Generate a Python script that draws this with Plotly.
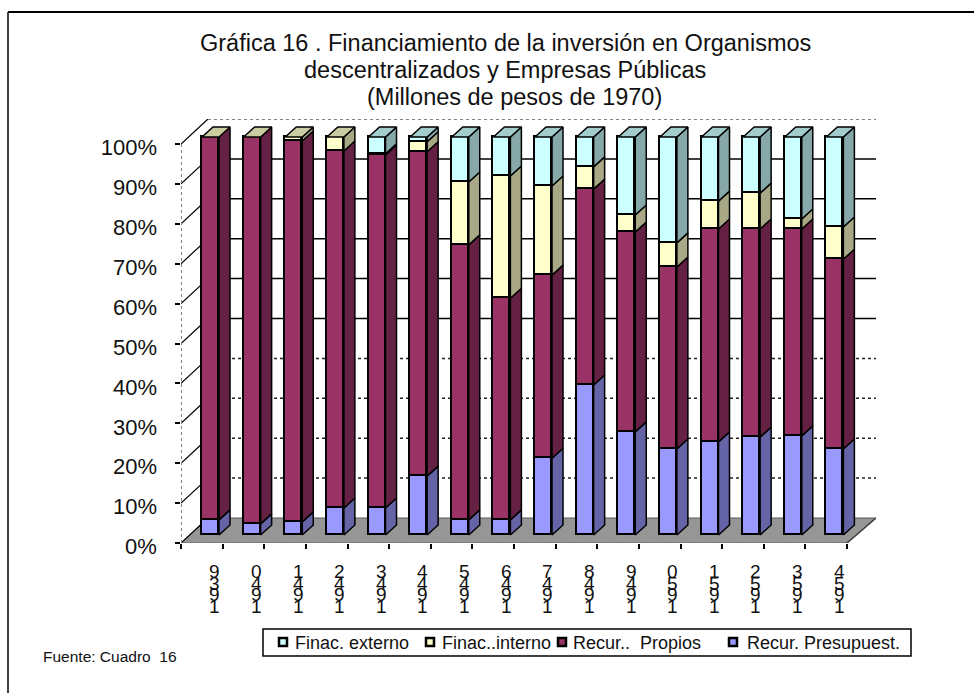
import plotly.graph_objects as go

years = [1939, 1940, 1941, 1942, 1943, 1944, 1945, 1946, 1947, 1948, 1949, 1950, 1951, 1952, 1953, 1954]
presupuest = [3.8, 2.8, 3.3, 6.8, 6.8, 14.8, 3.8, 3.8, 19.3, 37.7, 25.9, 21.6, 23.4, 24.6, 24.9, 21.6]
propios = [96.2, 97.2, 95.7, 89.7, 88.7, 81.5, 69.1, 55.7, 46.0, 49.2, 50.2, 45.7, 53.5, 52.3, 52.0, 47.7]
interno = [0.0, 0.0, 1.0, 3.5, 0.3, 2.5, 15.8, 30.7, 22.4, 5.6, 4.3, 6.1, 7.0, 9.0, 2.5, 8.1]
externo = [0.0, 0.0, 0.0, 0.0, 4.2, 1.2, 11.3, 9.8, 12.3, 7.5, 19.6, 26.6, 16.1, 14.1, 20.6, 22.6]
y_ticks = list(range(0, 101, 10))
thick_ticks = [0, 2, 4, 15]

series = [
    ("Recur. Presupuest.", presupuest, "#9999FF", "#6464A6", None),
    ("Recur..  Propios", propios, "#993366", "#652143", None),
    ("Finac..interno", interno, "#FFFFCC", "#A8A886", "#CCCCA3"),
    ("Finac. externo", externo, "#CCFFFF", "#86A8A8", "#A3CCCC"),
]

W, H = 974, 693
PX_L, PX_R, PX_T, PX_B = 181, 876, 119, 543
CAT_PX = 41.625
Y_PX = 3.99
BAR_PX = 3.98
BAR_BASE_PX = 535
LABEL_DROP_PX = 3.5

x_rng = [0, (PX_R - PX_L) / CAT_PX]
y_rng = [0, (PX_B - PX_T) / Y_PX]
y2_rng = [(BAR_BASE_PX - PX_B) / BAR_PX, (BAR_BASE_PX - PX_T) / BAR_PX]
y3_rng = [LABEL_DROP_PX / Y_PX, y_rng[1] + LABEL_DROP_PX / Y_PX]

WALL_DX = 27 / CAT_PX
WALL_DY = 25 / Y_PX
BAR_W = 17 / CAT_PX
BAR_SHIFT = 8.7 / CAT_PX
SIDE_DX = 11 / CAT_PX
SIDE_DY = 10 / BAR_PX
n = len(years)

fig = go.Figure()


def line(xs, ys, color="#000000", width=1.5, dash="solid"):
    fig.add_trace(go.Scatter(x=xs, y=ys, mode="lines", showlegend=False, hoverinfo="skip",
                             line=dict(color=color, width=width, dash=dash), xaxis="x", yaxis="y"))


# floor
fig.add_trace(go.Scatter(
    x=[0, n, x_rng[1], WALL_DX, 0], y=[0, 0, WALL_DY, WALL_DY, 0], mode="lines", fill="toself",
    fillcolor="#969696", line=dict(color="#5a5a5a", width=1), showlegend=False, hoverinfo="skip",
    xaxis="x", yaxis="y"))
line([0, n], [0, 0], "#808080", 2, "dot")
line([n, x_rng[1]], [0, WALL_DY], "#404040", 1.5)

# walls and gridlines
for v in y_ticks[1:]:
    line([0, WALL_DX], [v, v + WALL_DY], "#000000", 1.2)
    if v == 100:
        line([WALL_DX, x_rng[1]], [v + WALL_DY, v + WALL_DY], "#808080", 2, "dot")
    elif v <= 40:
        line([WALL_DX, x_rng[1]], [v + WALL_DY, v + WALL_DY], "#222222", 1.5, "dot")
    else:
        line([WALL_DX, x_rng[1]], [v + WALL_DY, v + WALL_DY], "#000000", 1.5)
line([0, WALL_DX], [0, WALL_DY], "#000000", 1.2)
line([0, 0], [0, 100], "#808080", 2, "dot")

# heavier tick marks
fig.add_trace(go.Scatter(
    x=thick_ticks, y=[-2.5 / Y_PX] * len(thick_ticks), mode="markers", cliponaxis=False,
    marker=dict(symbol="line-ns", size=5, line=dict(color="#000000", width=3)),
    showlegend=False, hoverinfo="skip", xaxis="x", yaxis="y"))

# front faces of the stacked bars
centres = [i + 0.5 + BAR_SHIFT for i in range(n)]
for name, vals, front, side, top in series:
    fig.add_trace(go.Bar(x=centres, y=vals, width=BAR_W, name=name, marker=dict(
        color=front, line=dict(color="#000000", width=1.8)), showlegend=False,
        xaxis="x", yaxis="y2"))

# side and top faces
cum = [0.0] * n
for name, vals, front, side, top in series:
    for i in range(n):
        if vals[i] <= 0:
            continue
        xr = centres[i] + BAR_W / 2
        lo, hi = cum[i], cum[i] + vals[i]
        fig.add_trace(go.Scatter(
            x=[xr, xr + SIDE_DX, xr + SIDE_DX, xr, xr],
            y=[lo, lo + SIDE_DY, hi + SIDE_DY, hi, lo],
            mode="lines", fill="toself", fillcolor=side, line=dict(color="#000000", width=1.5),
            showlegend=False, hoverinfo="skip", xaxis="x", yaxis="y2"))
        cum[i] = hi
for i in range(n):
    xl = centres[i] - BAR_W / 2
    xr = centres[i] + BAR_W / 2
    colour = series[3][4] if externo[i] > 0 else series[2][4]
    hi = cum[i]
    fig.add_trace(go.Scatter(
        x=[xl, xr, xr + SIDE_DX, xl + SIDE_DX, xl],
        y=[hi, hi, hi + SIDE_DY, hi + SIDE_DY, hi],
        mode="lines", fill="toself", fillcolor=colour, line=dict(color="#000000", width=1.5),
        showlegend=False, hoverinfo="skip", xaxis="x", yaxis="y2"))

# carries the y tick labels
fig.add_trace(go.Scatter(x=[], y=[], showlegend=False, hoverinfo="skip", xaxis="x", yaxis="y3"))

annotations = []
# category labels: one upright digit per line, last digit first
for i, yr in enumerate(years):
    for k, ch in enumerate(reversed(str(yr))):
        annotations.append(dict(
            text=ch, x=i + 0.5, y=0, xref="x", yref="y", xshift=13, yshift=-(28.5 + 11.7 * k),
            showarrow=False, xanchor="center", yanchor="middle",
            font=dict(family="Liberation Sans", size=19, color="#111111")))

# lowest y label sits below the label axis range
annotations.append(dict(text=f"{y_ticks[0]}%", x=0, y=y_ticks[0], xref="x", yref="y", xshift=-22, yshift=-LABEL_DROP_PX,
                        showarrow=False, xanchor="right", yanchor="middle",
                        font=dict(family="Liberation Sans", size=22, color="#111111")))

annotations.append(dict(text="Fuente: Cuadro  16", x=41 / W, y=1 - 656 / H, xref="paper", yref="paper",
                        showarrow=False, xanchor="left", yanchor="middle",
                        font=dict(family="Liberation Sans", size=15.5, color="#111111")))

# title lines
for txt, cy, cx in [("Gráfica 16 . Financiamiento de la inversión en Organismos", 43, 505),
                    ("descentralizados y Empresas Públicas", 70, 505),
                    ("(Millones de pesos de 1970)", 97, 514)]:
    annotations.append(dict(text=txt, x=cx / W, y=1 - cy / H, xref="paper", yref="paper", showarrow=False,
                            xanchor="center", yanchor="middle",
                            font=dict(family="Liberation Sans", size=23.5, color="#111111")))

# legend
shapes = [
    dict(type="line", xref="paper", yref="paper", x0=8 / W, x1=8 / W, y0=0, y1=1 - 12 / H,
         line=dict(color="#000000", width=1.5)),
    dict(type="line", xref="paper", yref="paper", x0=8 / W, x1=1, y0=1 - 12 / H, y1=1 - 12 / H,
         line=dict(color="#000000", width=2)),
    dict(type="rect", xref="paper", yref="paper", x0=263 / W, x1=911 / W, y0=1 - 656 / H, y1=1 - 629 / H,
         line=dict(color="#000000", width=1.5), fillcolor="#FFFFFF"),
]
leg_key = [733, 562, 430, 283]
leg_text = [745, 571, 440, 293]
for (name, vals, front, side, top), kx, tx in zip(series, leg_key, leg_text):
    shapes.append(dict(type="rect", xref="paper", yref="paper", x0=(kx - 4) / W, x1=(kx + 4) / W,
                       y0=1 - 646 / H, y1=1 - 638 / H, line=dict(color="#000000", width=2.5), fillcolor=front))
    annotations.append(dict(text=name, x=tx / W, y=1 - 643 / H, xref="paper", yref="paper",
                            showarrow=False, xanchor="left", yanchor="middle",
                            font=dict(family="Liberation Sans", size=18, color="#111111")))

fig.update_layout(
    width=W, height=H, autosize=False, margin=dict(l=0, r=0, t=0, b=0),
    paper_bgcolor="#FFFFFF", plot_bgcolor="#FFFFFF", barmode="stack", bargap=0,
    font=dict(family="Liberation Sans", color="#111111"),
    xaxis=dict(domain=[PX_L / W, PX_R / W], range=x_rng, tickmode="array", tickvals=list(range(n + 1)),
               ticks="outside", ticklen=5, tickwidth=1.5, tickcolor="#000000", showticklabels=False,
               showgrid=False, zeroline=False, showline=False, anchor="y"),
    yaxis=dict(domain=[1 - PX_B / H, 1 - PX_T / H], range=y_rng, tickmode="array", tickvals=y_ticks,
               ticks="outside", ticklen=5, tickwidth=1.5, tickcolor="#000000", showticklabels=False,
               showgrid=False, zeroline=False, showline=False, anchor="x"),
    yaxis2=dict(domain=[1 - PX_B / H, 1 - PX_T / H], range=y2_rng, overlaying="y", visible=False,
                anchor="x", showgrid=False, zeroline=False),
    yaxis3=dict(domain=[1 - PX_B / H, 1 - PX_T / H], range=y3_rng, overlaying="y", anchor="x", side="left",
                tickmode="array", tickvals=y_ticks[1:], ticktext=[f"{v}%" for v in y_ticks[1:]], ticks="",
                ticklabelstandoff=23, tickfont=dict(family="Liberation Sans", size=22, color="#111111"),
                showgrid=False, zeroline=False, showline=False),
    annotations=annotations, shapes=shapes, showlegend=False,
)

fig.write_html("out.html", config={"displayModeBar": False}, post_script="document.body.style.margin='0';")
